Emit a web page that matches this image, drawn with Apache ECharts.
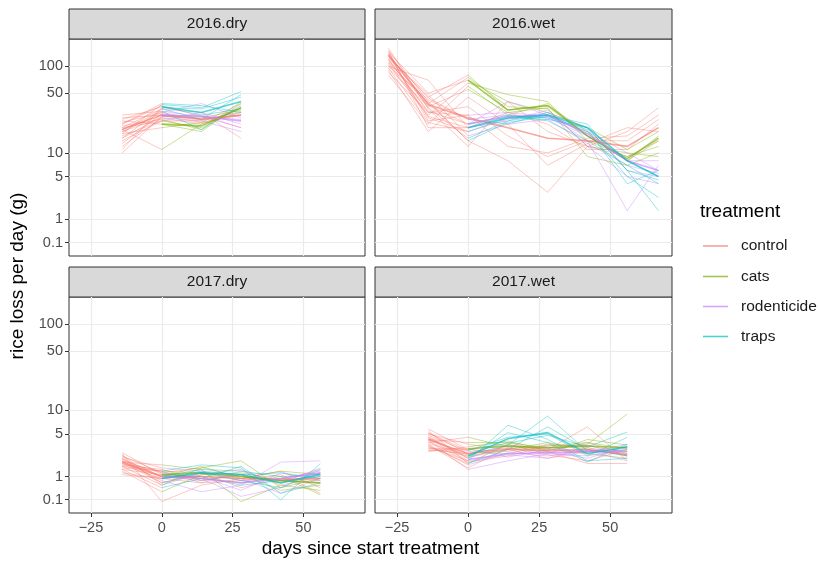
<!DOCTYPE html>
<html>
<head>
<meta charset="utf-8">
<title>Rice loss per day by treatment</title>
<script src="https://cdn.jsdelivr.net/npm/echarts@6/dist/echarts.min.js"></script>
<style>
  html, body { margin: 0; padding: 0; background: #fff; }
  #chart { width: 818px; height: 561px; }
</style>
</head>
<body>
<div id="chart"></div>
<script>
// Treatments and their colours (ggplot hue palette)
const treatments = ['control', 'cats', 'rodenticide', 'traps'];
const treatmentColors = ['#F8766D', '#7CAE00', '#C77CFF', '#00BFC4'];

// Axis ticks
const xTickValues = [-25, 0, 25, 50];
const yTickValues = [0.1, 1, 5, 10, 50, 100];
const yTickLabels = ['0.1', '1', '5', '10', '50', '100'];

// ---------- 2016.dry : days sampled ----------
const dry2016Days = [-14, 0, 14, 28];
const dry2016Control = [
  [18, 30, 25, 28], [12, 26, 22, 34], [22, 36, 27, 20],
  [16, 24, 24, 31], [20, 33, 30, 15], [26, 28, 23, 38]
];
const dry2016Cats = [
  [19, 11, 22, 30], [14, 24, 20, 34], [24, 22, 18, 38],
  [10, 27, 26, 32], [17, 20, 23, 28], [21, 25, 19, 40]
];
const dry2016Rodenticide = [
  [15, 27, 28, 20], [23, 30, 38, 26], [18, 26, 24, 18],
  [28, 31, 27, 25], [13, 29, 25, 30], [20, 24, 30, 22]
];
const dry2016Traps = [
  [17, 37, 34, 52], [25, 35, 28, 33], [11, 34, 33, 45],
  [19, 31, 19, 36], [22, 38, 36, 30], [15, 33, 25, 48]
];
const dry2016Means = [
  [19, 28, 25, 28],
  [null, 22, 21, 34],
  [null, 28, 27, 24],
  [null, 35, 30, 40]
];

// ---------- 2016.wet ----------
const wet2016Days = [-28, -14, 0, 14, 28, 42, 56, 67];
const wet2016Control = [
  [150, 40, 14, 8, 3, 12, 18, 34],
  [120, 30, 35, 16, 9, 14, 14, 25],
  [100, 70, 20, 30, 22, 11, 11, 22],
  [140, 24, 28, 12, 10, 15, 16, 28],
  [90, 18, 45, 22, 7, 13, 20, 18],
  [160, 33, 12, 40, 18, 12, 9, 14]
];
const wet2016Cats = [
  [130, 45, 80, 32, 36, 18, 8, 16],
  [110, 28, 65, 48, 40, 14, 9, 12],
  [95, 35, 55, 30, 34, 9, 7, 10],
  [145, 50, 70, 40, 30, 20, 11, 18],
  [80, 22, 60, 28, 38, 16, 8, 14],
  [125, 38, 75, 35, 33, 12, 10, 9]
];
const wet2016Rodenticide = [
  [115, 36, 22, 40, 28, 14, 1.5, 7],
  [135, 26, 18, 25, 30, 20, 6, 5],
  [100, 42, 25, 28, 26, 16, 8, 8],
  [150, 20, 20, 24, 32, 12, 5, 4],
  [85, 30, 28, 30, 27, 18, 10, 6],
  [125, 48, 16, 22, 25, 13, 7, 5.5]
];
const wet2016Traps = [
  [140, 34, 15, 24, 28, 22, 6, 1.5],
  [105, 27, 20, 27, 26, 18, 5, 2.5],
  [130, 44, 25, 22, 30, 16, 8, 5],
  [95, 23, 18, 26, 25, 20, 6, 4.5],
  [120, 31, 22, 28, 24, 14, 7, 4],
  [110, 39, 14, 23, 27, 19, 4, 6]
];
const wet2016Means = [
  [135, 37, 26, 20, 15, 14, 12, 20],
  [null, null, 70, 32, 36, 16, 8.5, 15],
  [null, null, 22, 27, 28, 17, 8, 6],
  [null, null, 20, 26, 28, 20, 8, 5]
];

// ---------- 2017.dry ----------
const dry2017Days = [-14, 0, 14, 28, 42, 56];
const dry2017Control = [
  [1.8, 1.0, 0.8, 1.1, 0.7, 1.2],
  [2.6, 0.05, 0.6, 0.9, 1.3, 0.5],
  [1.5, 1.3, 1.2, 0.5, 0.9, 0.8],
  [2.2, 0.7, 1.1, 1.4, 0.6, 1.0],
  [1.2, 0.9, 0.7, 0.8, 1.1, 0.3],
  [2.0, 1.2, 1.5, 1.0, 0.8, 1.4]
];
const dry2017Cats = [
  [1.9, 1.7, 1.4, 0.05, 0.6, 0.4],
  [1.6, 0.6, 1.5, 2.0, 0.5, 0.9],
  [2.4, 1.2, 0.9, 0.7, 1.0, 0.25],
  [1.3, 0.35, 1.1, 1.2, 0.8, 0.7],
  [2.1, 1.0, 1.6, 0.9, 1.3, 1.1],
  [1.7, 1.4, 0.8, 1.1, 0.4, 0.6]
];
const dry2017Rodenticide = [
  [2.0, 0.8, 0.35, 0.6, 1.9, 2.0],
  [1.4, 1.1, 0.9, 0.2, 0.5, 1.2],
  [2.5, 0.6, 1.2, 0.9, 0.3, 0.9],
  [1.8, 1.3, 0.7, 1.3, 0.7, 1.5],
  [1.1, 0.9, 1.0, 0.4, 1.2, 0.8],
  [2.3, 1.5, 1.3, 0.8, 0.9, 1.3]
];
const dry2017Traps = [
  [1.6, 1.3, 1.7, 1.5, 0.1, 1.8],
  [2.2, 1.0, 1.4, 1.3, 1.0, 1.1],
  [1.9, 0.7, 1.2, 0.8, 0.5, 1.4],
  [1.4, 0.5, 0.9, 1.6, 0.3, 0.7],
  [2.7, 1.1, 1.0, 0.6, 0.8, 1.0],
  [1.7, 0.9, 1.3, 1.1, 1.2, 0.9]
];
const dry2017Means = [
  [1.9, 1.0, 1.0, 0.9, 0.85, 0.9],
  [null, 1.1, 1.2, 1.0, 0.8, 0.7],
  [null, 1.0, 0.9, 0.7, 0.9, 1.2],
  [null, 0.9, 1.2, 1.1, 0.7, 1.1]
];

// ---------- 2017.wet ----------
const wet2017Days = [-14, 0, 14, 28, 42, 56];
const wet2017Control = [
  [4.5, 2.2, 3.5, 3.0, 6.2, 2.0],
  [3.5, 1.5, 3.2, 2.5, 2.0, 3.0],
  [5.8, 3.0, 2.8, 3.6, 3.2, 2.4],
  [3.0, 2.6, 3.8, 2.8, 1.8, 1.8],
  [4.0, 1.9, 2.4, 3.4, 3.8, 2.6],
  [5.0, 3.6, 3.0, 2.2, 2.8, 3.3]
];
const wet2017Cats = [
  [4.2, 3.8, 3.8, 3.2, 3.6, 9.0],
  [3.2, 2.4, 3.0, 3.8, 3.0, 2.5],
  [5.5, 1.8, 3.6, 2.6, 4.2, 3.5],
  [3.8, 4.5, 3.3, 3.1, 2.6, 2.2],
  [4.8, 2.8, 2.6, 3.5, 3.4, 2.8],
  [2.8, 3.3, 4.0, 2.9, 3.8, 3.1]
];
const wet2017Rodenticide = [
  [4.1, 1.4, 2.0, 2.6, 2.4, 3.0],
  [3.3, 2.0, 2.5, 2.2, 3.2, 2.6],
  [5.2, 2.6, 3.3, 3.3, 2.7, 3.6],
  [3.6, 1.7, 2.7, 2.4, 2.9, 2.0],
  [4.6, 2.3, 3.0, 2.8, 2.2, 3.3],
  [3.1, 3.1, 2.3, 3.0, 3.5, 2.4]
];
const wet2017Traps = [
  [4.3, 2.0, 6.5, 4.2, 2.0, 2.2],
  [3.7, 2.5, 3.5, 8.5, 2.8, 3.0],
  [5.1, 2.9, 4.5, 5.0, 2.4, 4.5],
  [3.4, 1.8, 3.0, 6.2, 3.0, 2.4],
  [4.4, 2.2, 5.2, 3.8, 1.9, 3.6],
  [2.9, 3.0, 3.7, 4.8, 3.3, 5.3]
];
const wet2017Means = [
  [4.2, 2.6, 3.1, 2.9, 3.0, 2.5],
  [null, 3.1, 3.4, 3.2, 3.4, 3.2],
  [null, 2.1, 2.6, 2.7, 2.8, 2.8],
  [null, 2.4, 4.3, 5.2, 2.6, 3.3]
];

// Facet panels in reading order
const facetTitles = ['2016.dry', '2016.wet', '2017.dry', '2017.wet'];
const facets = [
  { days: dry2016Days, plots: [dry2016Control, dry2016Cats, dry2016Rodenticide, dry2016Traps], means: dry2016Means },
  { days: wet2016Days, plots: [wet2016Control, wet2016Cats, wet2016Rodenticide, wet2016Traps], means: wet2016Means },
  { days: dry2017Days, plots: [dry2017Control, dry2017Cats, dry2017Rodenticide, dry2017Traps], means: dry2017Means },
  { days: wet2017Days, plots: [wet2017Control, wet2017Cats, wet2017Rodenticide, wet2017Traps], means: wet2017Means }
];

// y axis uses a log(x + 1) scale
const tr = v => Math.log10(v + 1);
const Y_MIN = -0.107, Y_MAX = 2.31;
const X_MIN = -32.75, X_MAX = 71.75;

const FONT = '"Liberation Sans", Arial, Helvetica, sans-serif';

// Panel layout
const panels = [
  { left: 69, top: 39, width: 296, height: 217 },
  { left: 375, top: 39, width: 297, height: 217 },
  { left: 69, top: 297, width: 296, height: 216 },
  { left: 375, top: 297, width: 297, height: 216 }
];
const STRIP_H = 30;

function pts(days, row, keep) {
  const out = [];
  row.forEach((v, i) => {
    if (v !== null && keep(days[i])) out.push([days[i], tr(v)]);
  });
  return out;
}

const series = [];
facets.forEach((f, fi) => {
  const base = { type: 'line', xAxisIndex: fi, yAxisIndex: fi, showSymbol: false, symbol: 'none',
                 silent: true, animation: false };
  f.plots.forEach((rows, ti) => {
    rows.forEach(row => {
      if (ti === 0) {
        series.push(Object.assign({}, base, {
          name: treatments[0], data: pts(f.days, row, () => true),
          lineStyle: { color: treatmentColors[0], width: 0.9, opacity: 0.45 }
        }));
      } else {
        // before treatment starts every plot counts as control
        series.push(Object.assign({}, base, {
          name: treatments[0], data: pts(f.days, row, d => d <= 0),
          lineStyle: { color: treatmentColors[0], width: 0.9, opacity: 0.45 }
        }));
        series.push(Object.assign({}, base, {
          name: treatments[ti], data: pts(f.days, row, d => d >= 0),
          lineStyle: { color: treatmentColors[ti], width: 0.9, opacity: 0.45 }
        }));
      }
    });
  });
  f.means.forEach((row, ti) => {
    series.push(Object.assign({}, base, {
      name: treatments[ti], data: pts(f.days, row, () => true), z: 3,
      lineStyle: { color: treatmentColors[ti], width: 1.6, opacity: 0.65 }
    }));
  });
});

const grids = panels.map(p => Object.assign({}, p, {
  show: true, borderColor: '#333333', borderWidth: 1, backgroundColor: '#ffffff', containLabel: false
}));

const xAxes = panels.map((p, i) => {
  const bottom = i >= 2;
  return {
    type: 'value', gridIndex: i, min: X_MIN, max: X_MAX, position: 'bottom',
    axisLine: { show: false, onZero: false },
    axisTick: { show: bottom, customValues: xTickValues, length: 4, lineStyle: { color: '#333333', width: 1 } },
    axisLabel: {
      show: bottom, customValues: xTickValues, margin: 7, color: '#4D4D4D', fontSize: 14.5, fontFamily: FONT,
      formatter: v => (v < 0 ? '\u2212' + Math.abs(v) : String(v))
    },
    splitLine: { show: true, lineStyle: { color: '#EBEBEB', width: 1.2 } }
  };
});

const yCustom = yTickValues.map(tr);
const yAxes = panels.map((p, i) => {
  const left = i % 2 === 0;
  return {
    type: 'value', gridIndex: i, min: Y_MIN, max: Y_MAX, position: 'left',
    axisLine: { show: false, onZero: false },
    axisTick: { show: left, customValues: yCustom, length: 4, lineStyle: { color: '#333333', width: 1 } },
    axisLabel: {
      show: left, customValues: yCustom, margin: 6, color: '#4D4D4D', fontSize: 14.5, fontFamily: FONT,
      formatter: t => {
        const v = Math.pow(10, t) - 1;
        let best = 0;
        yTickValues.forEach((tv, k) => { if (Math.abs(tv - v) < Math.abs(yTickValues[best] - v)) best = k; });
        return yTickLabels[best];
      }
    },
    splitLine: { show: true, lineStyle: { color: '#EBEBEB', width: 1.2 } }
  };
});

// Facet strips, axis titles and legend
const graphics = [];
panels.forEach((p, i) => {
  graphics.push({
    type: 'rect', silent: true,
    shape: { x: p.left, y: p.top - STRIP_H, width: p.width, height: STRIP_H },
    style: { fill: '#D9D9D9', stroke: '#333333', lineWidth: 1 }
  });
  graphics.push({
    type: 'text', silent: true, x: p.left + p.width / 2, y: p.top - STRIP_H / 2,
    style: { text: facetTitles[i], fill: '#1A1A1A', font: '15.5px ' + FONT, align: 'center', verticalAlign: 'middle' }
  });
});
graphics.push({
  type: 'text', silent: true, x: 370.5, y: 549,
  style: { text: 'days since start treatment', fill: '#000000', font: '19px ' + FONT, align: 'center', verticalAlign: 'middle' }
});
graphics.push({
  type: 'text', silent: true, x: 18, y: 276, rotation: Math.PI / 2,
  style: { text: 'rice loss per day (g)', fill: '#000000', font: '19px ' + FONT, align: 'center', verticalAlign: 'middle' }
});
graphics.push({
  type: 'text', silent: true, x: 700, y: 212,
  style: { text: 'treatment', fill: '#000000', font: '19px ' + FONT, align: 'left', verticalAlign: 'middle' }
});
const legendY = [246, 276.5, 306.5, 336.5];
treatments.forEach((t, k) => {
  graphics.push({
    type: 'line', silent: true,
    shape: { x1: 703, y1: legendY[k], x2: 728, y2: legendY[k] },
    style: { stroke: treatmentColors[k], lineWidth: 1.6, opacity: 0.7 }
  });
  graphics.push({
    type: 'text', silent: true, x: 741, y: legendY[k],
    style: { text: t, fill: '#1A1A1A', font: '15.5px ' + FONT, align: 'left', verticalAlign: 'middle' }
  });
});

const chart = echarts.init(document.getElementById('chart'), null, { renderer: 'canvas' });
chart.setOption({
  backgroundColor: '#ffffff',
  animation: false,
  grid: grids,
  xAxis: xAxes,
  yAxis: yAxes,
  series: series,
  graphic: graphics
});
</script>
</body>
</html>
